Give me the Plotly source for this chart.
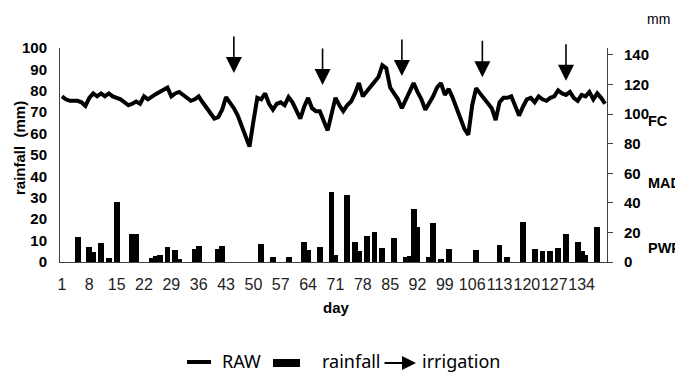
import plotly.graph_objects as go

# ---------------- data ----------------
days = list(range(1, 141))
raw_mm = [
    112, 110, 109, 109, 109, 108, 105.5, 111, 114, 112,
    114, 112, 114, 112, 111, 110, 108, 106, 107, 108.5,
    107, 112, 110, 112, 113.5, 115, 116.5, 118, 112, 114,
    115, 113, 111, 109, 110, 112, 108, 104, 100, 97,
    98, 103, 111.5, 108, 104, 99, 92, 85, 78, 95,
    111, 110, 114, 107, 103, 107, 108, 106, 111.5, 108,
    102, 97, 105, 111, 104, 102, 102, 96, 89, 100,
    111, 106, 102, 106, 108.5, 114, 121, 112, 115, 118,
    121, 125, 133, 131, 118, 114, 110, 104, 110, 115,
    121, 115, 110, 103, 107, 112, 118, 121, 113, 117,
    111, 103, 97, 90, 86, 106, 117.5, 114, 111, 107,
    104, 96, 108, 111, 111, 112, 105, 99, 105, 110,
    111, 108, 112, 110, 109, 111, 112, 116, 114, 113,
    115, 111, 109, 113, 112, 115, 110, 114, 111, 107,
]
rain_days = [5, 8, 9, 11, 13, 15, 19, 20, 24, 25, 26, 28, 30, 31, 35, 36, 41, 42,
             52, 55, 59, 63, 64, 67, 70, 71, 74, 76, 77, 79, 81, 83, 86, 89, 90,
             91, 92, 95, 96, 98, 100, 107, 113, 115, 119, 122, 124, 126, 128, 130,
             133, 134, 135, 138]
rain_mm = [11.5, 7, 4.5, 9, 2, 28, 13, 13, 2, 3, 3.5, 7, 5.5, 1.5, 6, 7.5, 6, 7.5,
           8.5, 2.5, 2.5, 9.5, 5.5, 7, 32.5, 3.5, 31.5, 9.5, 5, 12, 14, 6.5, 11, 2.5, 3,
           25, 16.5, 2.5, 18, 1.5, 6, 5.5, 8, 2.5, 18.5, 6, 5, 5, 6.5, 13,
           9.5, 5, 3.5, 16.5]
irrigation_days = [45, 67.7, 88, 108.6, 130]
irrigation_tip_mm = [127.8, 119.7, 125.8, 124.9, 122.6]
x_tick_days = [1, 8, 15, 22, 29, 36, 43, 50, 57, 64, 71, 78, 85, 92, 99, 106, 113, 120, 127, 134]
left_ticks = [0, 10, 20, 30, 40, 50, 60, 70, 80, 90, 100]
right_ticks = [0, 20, 40, 60, 80, 100, 120, 140]
zone_labels = ["FC", "MAD", "PWP"]
zone_label_mm = [95.4, 53.4, 9.8]

# ---------------- layout geometry ----------------
# the page body has an 8px margin; the figure is sized to fit the 683x374 window
OFF = 8
W, H = 675, 366
L, R, T, B = 52, 76, 40, 112
PW, PH = W - L - R, H - T - B


def px(x):
    """reference-window pixel x -> paper x"""
    return (x - OFF - L) / PW


def py(y):
    """reference-window pixel y -> paper y"""
    return (H - B - (y - OFF)) / PH


FONT = "Liberation Sans, Arial, sans-serif"
LEG_FONT = "Noto Sans, Open Sans, sans-serif"

fig = go.Figure()
fig.add_trace(go.Bar(x=rain_days, y=rain_mm, width=1.5, marker=dict(color="black", line=dict(width=0)),
                     name="rainfall", yaxis="y", showlegend=False))
fig.add_trace(go.Scatter(x=days, y=raw_mm, mode="lines", line=dict(color="black", width=4),
                         name="RAW", yaxis="y2", showlegend=False))

annotations = []
for d, tip in zip(irrigation_days, irrigation_tip_mm):
    annotations.append(dict(x=d, y=tip, xref="x", yref="y2", text="", showarrow=True,
                            ax=0, ay=-38, arrowhead=2, arrowsize=2.0, arrowwidth=1.6,
                            arrowcolor="black"))

# right-side zone labels
for lab, v in zip(zone_labels, zone_label_mm):
    annotations.append(dict(x=px(647), y=v, xref="paper", yref="y2", text=lab, showarrow=False,
                            xanchor="left", yanchor="middle", borderpad=0,
                            font=dict(family=FONT, size=14.5, color="black", weight="bold")))

annotations += [
    dict(x=px(658), y=py(19), xref="paper", yref="paper", text="mm", showarrow=False,
         xanchor="center", yanchor="middle",
         font=dict(family=FONT, size=14, color="black")),
    dict(x=px(19), y=py(148), xref="paper", yref="paper", text="rainfall  (mm)", showarrow=False,
         textangle=-90, xanchor="center", yanchor="middle",
         font=dict(family=FONT, size=15, color="black", weight="bold")),
    dict(x=px(337), y=py(307), xref="paper", yref="paper", text="day", showarrow=False,
         xanchor="center", yanchor="middle",
         font=dict(family=FONT, size=15, color="black", weight="bold")),
    # legend texts
    dict(x=px(221), y=py(361), xref="paper", yref="paper", text="RAW", showarrow=False,
         xanchor="left", yanchor="middle", borderpad=0,
         font=dict(family=LEG_FONT, size=18, color="black")),
    dict(x=px(321), y=py(361), xref="paper", yref="paper", text="rainfall", showarrow=False,
         xanchor="left", yanchor="middle", borderpad=0,
         font=dict(family=LEG_FONT, size=18, color="black")),
    dict(x=px(421), y=py(361), xref="paper", yref="paper", text="irrigation", showarrow=False,
         xanchor="left", yanchor="middle", borderpad=0,
         font=dict(family=LEG_FONT, size=18, color="black")),
    # legend arrow
    dict(x=px(416), y=py(363), xref="paper", yref="paper", text="", showarrow=True,
         ax=-33, ay=0, arrowhead=2, arrowsize=1.4, arrowwidth=2, arrowcolor="black"),
]

shapes = [
    dict(type="line", xref="paper", yref="paper", x0=px(187), x1=px(211), y0=py(362), y1=py(362),
         line=dict(color="black", width=4)),
    dict(type="rect", xref="paper", yref="paper", x0=px(273), x1=px(300), y0=py(359), y1=py(367),
         fillcolor="black", line=dict(width=0)),
]

fig.update_layout(
    width=W, height=H,
    autosize=False,
    margin=dict(l=L, r=R, t=T, b=B, pad=0, autoexpand=False),
    paper_bgcolor="white", plot_bgcolor="white",
    showlegend=False,
    bargap=0,
    xaxis=dict(range=[0.5, 140.5], tickmode="array", tickvals=x_tick_days,
               ticktext=[str(v) for v in x_tick_days], tickangle=0, ticks="", showgrid=False,
               zeroline=False, showline=True, linecolor="#404040", linewidth=1, ticklabelstandoff=8,
               tickfont=dict(family=FONT, size=16, color="#222")),
    yaxis=dict(range=[0, 100], tickmode="array", tickvals=left_ticks, ticks="", showgrid=False,
               zeroline=False, showline=True, linecolor="#404040", linewidth=1,
               ticklabelstandoff=9, tickfont=dict(family=FONT, size=15, color="black", weight="bold")),
    yaxis2=dict(range=[0, 144.7], overlaying="y", side="right", tickmode="array", tickvals=right_ticks,
                ticks="outside", ticklen=5, tickcolor="#404040", showgrid=False, zeroline=False,
                showline=True, linecolor="#404040", linewidth=1, ticklabelstandoff=8,
                tickfont=dict(family=FONT, size=15, color="black", weight="bold")),
    annotations=annotations,
    shapes=shapes,
)

fig.write_html("out.html")
